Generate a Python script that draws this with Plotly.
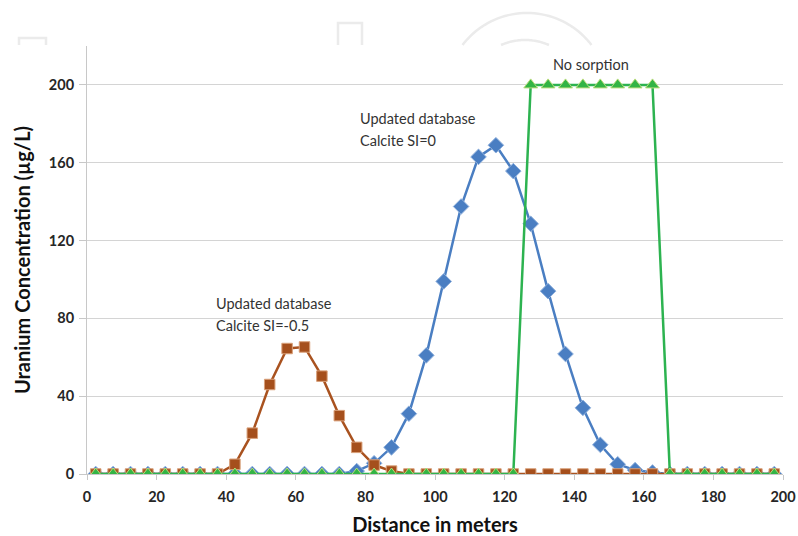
import math
import plotly.graph_objects as go

# Distance along the flow path (m): cell centres every 5 m
distance = [2.5 + 5 * i for i in range(40)]

# Uranium concentration (ug/L) at each distance
si_zero = [0, 0, 0, 0, 0, 0, 0, 0, 0, 0, 0, 0, 0, 0, 0, 1.5, 5.5, 13.7, 31, 61,
           99, 137.5, 163, 169, 155.7, 128.6, 94, 61.7, 34, 15, 5, 2, 0.8, 0, 0, 0,
           0, 0, 0, 0]
si_minus_half = [0, 0, 0, 0, 0, 0, 0, 0, 5, 21, 46, 64.5, 65.3, 50.3, 30, 13.7, 4.6, 1.5,
                 0, 0, 0, 0, 0, 0, 0, 0, 0, 0, 0, 0, 0, 0, 0, 0, 0, 0, 0, 0, 0, 0]
no_sorption = [0] * 25 + [200] * 8 + [0] * 7

x_ticks = list(range(0, 201, 20))
y_ticks = list(range(0, 201, 40))

FONT = "Lato"
TEXT = "#262626"

fig = go.Figure()

fig.add_trace(go.Scatter(
    x=distance, y=si_zero, mode="lines+markers", name="Calcite SI=0",
    line=dict(color="#4A7EC2", width=2.5),
    marker=dict(symbol="diamond", size=12, color="#4A7EC2",
                line=dict(color="#8FB0DC", width=1)),
))
fig.add_trace(go.Scatter(
    x=distance, y=si_minus_half, mode="lines+markers", name="Calcite SI=-0.5",
    line=dict(color="#A9521F", width=2.5),
    marker=dict(symbol="square", size=10.5, color="#A54F1C",
                line=dict(color="#D9A07A", width=1)),
))
fig.add_trace(go.Scatter(
    x=distance, y=no_sorption, mode="lines+markers", name="No sorption",
    line=dict(color="#2DB350", width=2.5),
    marker=dict(symbol="triangle-up", size=12, color="#33B445",
                line=dict(color="#B8DC7A", width=1)),
))

# Series labels
labels = [
    (77.9, 182.6, "Updated database"),
    (77.9, 171.3, "Calcite SI=0"),
    (36.5, 87.7, "Updated database"),
    (36.5, 76.4, "Calcite SI=-0.5"),
]
for lx, ly, txt in labels:
    fig.add_annotation(x=lx, y=ly, text=txt, showarrow=False, xanchor="left",
                       yanchor="middle", font=dict(family=FONT, size=14.5, color="#333333"))
fig.add_annotation(x=144.8, y=210.3, text="No sorption", showarrow=False,
                   xanchor="center", yanchor="middle",
                   font=dict(family=FONT, size=14.5, color="#333333"))

# Faint background emblem above the plot area (pixel -> paper coordinates)
L, R, T, B = 87, 783, 46, 474


def px(xp):
    return (xp - L) / (R - L)


def py(yp):
    return (B - yp) / (B - T)


def arc_path(cx, cy, r, ycut, n=40):
    dy = cy - ycut
    a0 = math.acos(max(-1, min(1, dy / r)))
    pts = []
    for k in range(n + 1):
        a = -a0 + 2 * a0 * k / n
        xp = cx + r * math.sin(a)
        yp = cy - r * math.cos(a)
        pts.append((px(xp), py(yp)))
    return "M " + " L ".join(f"{a:.5f},{b:.5f}" for a, b in pts)


WM = "#ebebeb"
fig.add_shape(type="path", xref="paper", yref="paper", path=arc_path(527, 94, 81, 45),
              line=dict(color=WM, width=2.5), layer="below")
fig.add_shape(type="path", xref="paper", yref="paper", path=arc_path(525, 100, 60, 45),
              line=dict(color=WM, width=2.5), layer="below")
for x0, x1, y0 in [(338, 362, 23), (19, 46, 38)]:
    fig.add_shape(type="path", xref="paper", yref="paper",
                  path=f"M {px(x0):.5f},{py(45):.5f} L {px(x0):.5f},{py(y0):.5f} "
                       f"L {px(x1):.5f},{py(y0):.5f} L {px(x1):.5f},{py(45):.5f}",
                  line=dict(color=WM, width=2.5), layer="below")

fig.update_layout(
    width=798, height=536,
    margin=dict(l=87, r=15, t=46, b=62, autoexpand=False),
    paper_bgcolor="white", plot_bgcolor="white",
    showlegend=False,
    font=dict(family=FONT, color=TEXT),
    xaxis=dict(
        range=[0, 200], tickvals=x_ticks, showgrid=False, zeroline=False,
        showline=True, linecolor="#C8C8C8", linewidth=1, automargin=False,
        ticks="outside", ticklen=5, tickcolor="#C8C8C8", ticklabelstandoff=5,
        tickfont=dict(family=FONT, size=14.5, color=TEXT, weight="bold"),
        title=dict(text="Distance in meters", standoff=18,
                   font=dict(family=FONT, size=20, color="#111111", weight="bold")),
    ),
    yaxis=dict(
        range=[0, 220], tickvals=y_ticks, showgrid=True, gridcolor="#D4D4D4",
        gridwidth=1, zeroline=False, showline=True, linecolor="#C8C8C8", linewidth=1,
        automargin=False, ticks="outside", ticklen=7, tickcolor="#C8C8C8",
        ticklabelstandoff=2,
        tickfont=dict(family=FONT, size=14.5, color=TEXT, weight="bold"),
        title=dict(text="Uranium Concentration (µg/L)", standoff=12,
                   font=dict(family=FONT, size=20, color="#111111", weight="bold")),
    ),
)

fig.write_html("out.html")
